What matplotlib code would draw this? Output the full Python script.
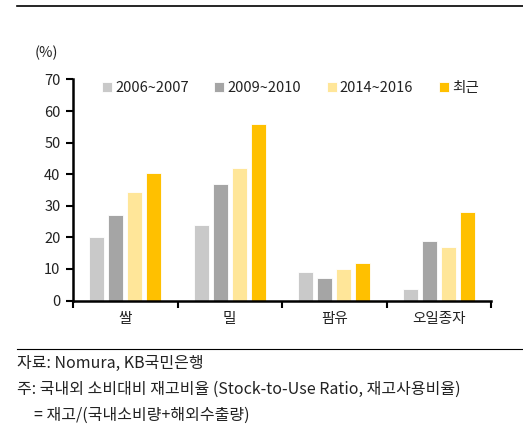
import numpy as np
import matplotlib
matplotlib.use('Agg')
import matplotlib.pyplot as plt
from matplotlib.lines import Line2D

plt.rcParams['font.family'] = ['Noto Sans CJK KR', 'DejaVu Sans']

##---------- data ----------
categories = ['쌀', '밀', '팜유', '오일종자']
series_names = ['2006~2007', '2009~2010', '2014~2016', '최근']
v_2006 = [20, 24, 9, 3.7]
v_2009 = [27, 37, 7, 18.8]
v_2014 = [34.3, 42, 10, 17]
v_recent = [40.3, 56, 12, 27.9]
colors = ['#C9C9C9', '#A5A5A5', '#FFE699', '#FFC000']
yticks = [0, 10, 20, 30, 40, 50, 60, 70]

fs = 10.5
tc = '#222222'

##---------- figure ----------
fig = plt.figure(figsize=(5.23, 4.36), dpi=100)
ax = fig.add_axes([73/523, 1-300.5/436, 418/523, 221/436])

x = np.arange(len(categories))
w = 0.145
step = 0.182
all_vals = [v_2006, v_2009, v_2014, v_recent]
for i, (vals, c, name) in enumerate(zip(all_vals, colors, series_names)):
    ax.bar(x + (i - 1.5) * step, vals, width=w, color=c, label=name,
           edgecolor='white', linewidth=0.6)

ax.set_xlim(-0.5, len(categories) - 0.5)
ax.set_ylim(0, 70)
ax.set_yticks(yticks)
ax.set_yticklabels([str(t) for t in yticks], fontsize=fs, color=tc)
ax.set_xticks(np.arange(len(categories) + 1) - 0.5)
ax.set_xticklabels([])
ax.set_xticks(x, minor=True)
ax.set_xticklabels(categories, minor=True, fontsize=fs, color=tc)
ax.tick_params(axis='x', which='major', direction='out', length=5, width=1.5)
ax.tick_params(axis='x', which='minor', length=0, pad=8)
ax.tick_params(axis='y', direction='out', length=5, width=1.5, pad=4)
for s in ['top', 'right']:
    ax.spines[s].set_visible(False)
ax.spines['left'].set_linewidth(1.8)
ax.spines['bottom'].set_linewidth(1.8)

fig.text(35/523, 1-53/436, '(%)', fontsize=fs, va='center', color=tc)

leg = ax.legend(loc='upper left', bbox_to_anchor=(0.045, 1.04), ncol=4, frameon=False,
                fontsize=fs, handlelength=0.7, handleheight=0.7, handletextpad=0.2,
                columnspacing=1.75, borderpad=0.2)
for t in leg.get_texts():
    t.set_color(tc)

# top and bottom rules
fig.add_artist(Line2D([17/523, 1], [1-6/436, 1-6/436], color='black', linewidth=1.2))
fig.add_artist(Line2D([17/523, 1], [1-349/436, 1-349/436], color='black', linewidth=0.8))

fs2 = 11.5
fig.text(17/523, 1-363/436, '자료: Nomura, KB국민은행', fontsize=fs2, va='center', color=tc)
fig.text(17/523, 1-389/436, '주: 국내외 소비대비 재고비율 (Stock-to-Use Ratio, 재고사용비율)',
         fontsize=fs2, va='center', color=tc)
fig.text(34/523, 1-415/436, '= 재고/(국내소비량+해외수출량)', fontsize=fs2, va='center', color=tc)

plt.savefig('out.png', dpi=100)
